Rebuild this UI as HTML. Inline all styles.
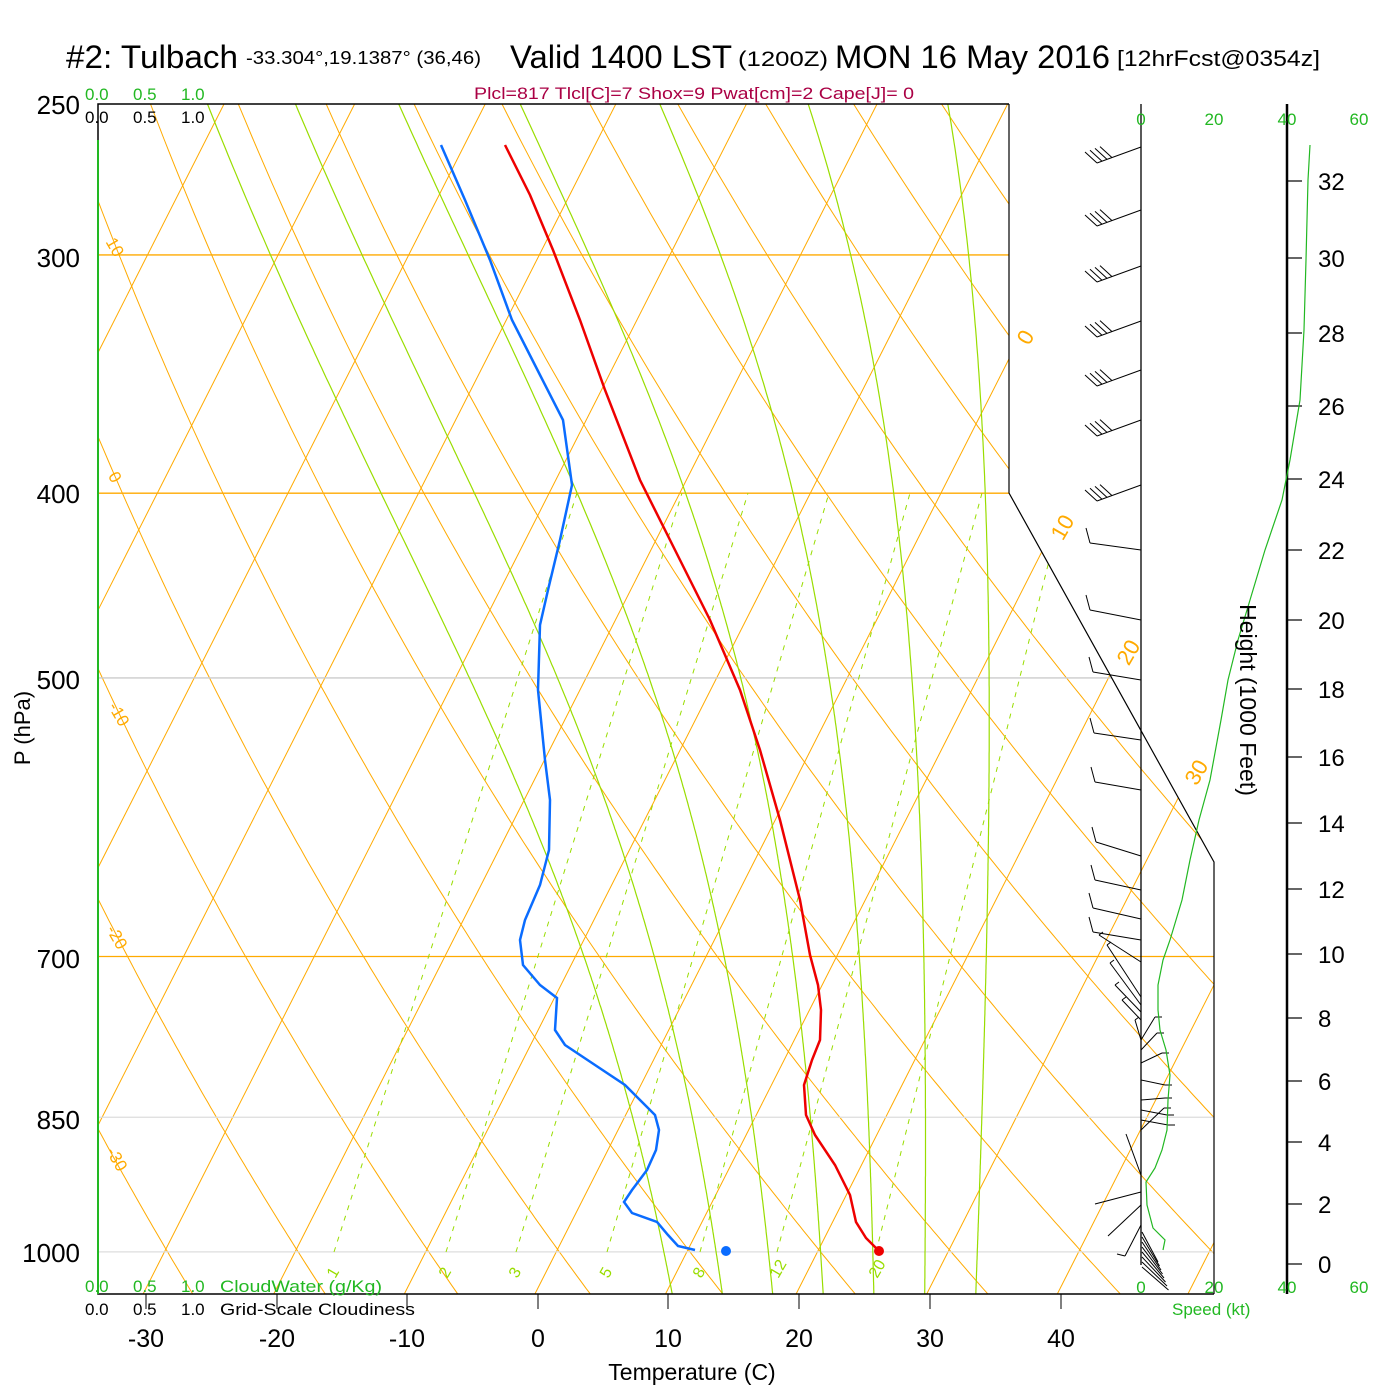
<!DOCTYPE html>
<html><head><meta charset="utf-8"><style>
body{margin:0;background:#fff;}
svg{display:block;font-family:"Liberation Sans",sans-serif;}
</style></head><body>
<svg id="s" width="1400" height="1400" xmlns="http://www.w3.org/2000/svg">
<defs><clipPath id="c"><polygon points="98,104 1009,104 1009,493 1214,862 1214,1294 98,1294"/></clipPath></defs>
<g id="grid" clip-path="url(#c)"></g>
<g id="fg"></g>
<!-- titles -->
<text x="66" y="68" font-size="32" textLength="172" lengthAdjust="spacingAndGlyphs">#2: Tulbach</text>
<text x="246" y="64" font-size="18" textLength="235" lengthAdjust="spacingAndGlyphs">-33.304°,19.1387° (36,46)</text>
<text x="510" y="68" font-size="32" textLength="222" lengthAdjust="spacingAndGlyphs">Valid 1400 LST</text>
<text x="738" y="66" font-size="21" textLength="90" lengthAdjust="spacingAndGlyphs">(1200Z)</text>
<text x="835" y="68" font-size="32" textLength="275" lengthAdjust="spacingAndGlyphs">MON 16 May 2016</text>
<text x="1117" y="66" font-size="22" textLength="203" lengthAdjust="spacingAndGlyphs">[12hrFcst@0354z]</text>
<text x="474" y="99" font-size="17" fill="#aa0044" textLength="440" lengthAdjust="spacingAndGlyphs">Plcl=817 Tlcl[C]=7 Shox=9 Pwat[cm]=2 Cape[J]= 0</text>
<g font-size="17" fill="#22b822"><text x="85" y="100">0.0</text><text x="133" y="100">0.5</text><text x="181" y="100">1.0</text></g>
<g font-size="17" fill="#000"><text x="85" y="123">0.0</text><text x="133" y="123">0.5</text><text x="181" y="123">1.0</text></g>
<g font-size="17" fill="#22b822"><text x="85" y="1292">0.0</text><text x="133" y="1292">0.5</text><text x="181" y="1292">1.0</text><text x="220" y="1292" textLength="162" lengthAdjust="spacingAndGlyphs">CloudWater (g/Kg)</text></g>
<g font-size="17" fill="#000"><text x="85" y="1315">0.0</text><text x="133" y="1315">0.5</text><text x="181" y="1315">1.0</text><text x="220" y="1315" textLength="195" lengthAdjust="spacingAndGlyphs">Grid-Scale Cloudiness</text></g>
<g font-size="26" text-anchor="end"><text x="80" y="114">250</text><text x="80" y="267">300</text><text x="80" y="503">400</text><text x="80" y="689">500</text><text x="80" y="968">700</text><text x="80" y="1129">850</text><text x="80" y="1262">1000</text></g>
<text transform="translate(30,728) rotate(-90)" font-size="22" text-anchor="middle">P (hPa)</text>
<g font-size="25" text-anchor="middle"><text x="146" y="1347">-30</text><text x="277" y="1347">-20</text><text x="407" y="1347">-10</text><text x="538" y="1347">0</text><text x="668" y="1347">10</text><text x="799" y="1347">20</text><text x="930" y="1347">30</text><text x="1061" y="1347">40</text></g>
<text x="692" y="1380" font-size="23" text-anchor="middle">Temperature (C)</text>
<g font-size="17" fill="#22b822" text-anchor="middle"><text x="1141" y="125">0</text><text x="1214" y="125">20</text><text x="1287" y="125">40</text><text x="1359" y="125">60</text>
<text x="1141" y="1293">0</text><text x="1214" y="1293">20</text><text x="1287" y="1293">40</text><text x="1359" y="1293">60</text></g>
<text x="1172" y="1315" font-size="17" fill="#22b822">Speed (kt)</text>
<text transform="translate(1240,700) rotate(90)" font-size="23" text-anchor="middle">Height (1000 Feet)</text>
<g font-size="24"><text x="1318" y="1273">0</text><text x="1318" y="1213">2</text><text x="1318" y="1151">4</text><text x="1318" y="1090">6</text><text x="1318" y="1027">8</text><text x="1318" y="963">10</text><text x="1318" y="898">12</text><text x="1318" y="832">14</text><text x="1318" y="766">16</text><text x="1318" y="698">18</text><text x="1318" y="629">20</text><text x="1318" y="559">22</text><text x="1318" y="488">24</text><text x="1318" y="415">26</text><text x="1318" y="342">28</text><text x="1318" y="267">30</text><text x="1318" y="190">32</text></g>
<script>
(function(){
var NS="http://www.w3.org/2000/svg";
var g=document.getElementById('grid'),f=document.getElementById('fg');
function el(par,tag,a,txt){var e=document.createElementNS(NS,tag);for(var k in a)e.setAttribute(k,a[k]);if(txt!==undefined)e.textContent=txt;par.appendChild(e);return e;}
function Y(p){return 104+828*Math.log(p/250);}
function X(T,p){return 538+13.06*T+0.507*(1294-Y(p));}
var OR="#ffaa00",GR="#99dd00";
// isotherms
for(var T=-120;T<=60;T+=10){el(g,'line',{x1:X(T,1060),y1:1294,x2:X(T,1060)+0.507*1190,y2:104,stroke:OR,'stroke-width':1});}
// dry adiabats
for(var th=-60;th<=200;th+=10){var d='';for(var p=1060;p>=245;p-=5){var t=(th+273.15)*Math.pow(p/1000,0.2857)-273.15;d+=(d?'L':'M')+X(t,p).toFixed(1)+','+Y(p).toFixed(1);}el(g,'path',{d:d,fill:'none',stroke:OR,'stroke-width':1});}
// horizontal lines
[[300,OR],[400,OR],[500,'#cccccc'],[700,OR],[850,'#dddddd'],[1000,'#dddddd']].forEach(function(a){el(g,'line',{x1:98,x2:1214,y1:Y(a[0]),y2:Y(a[0]),stroke:a[1],'stroke-width':1.3});});
// moist adiabats
function es(tc){return 6.112*Math.exp(17.67*tc/(tc+243.5));}
function dTdp(T,p){var tc=T-273.15,e=es(tc),rs=0.622*e/(p-e);return (287*T+2.5e6*rs)/(p*(1005+2.5e6*2.5e6*rs*0.622/(287*T*T)));}
for(var w=8;w<=32;w+=4){var pts=[];var T=w+273.15,p=1000;var down=[];var Td=T;for(var pp=1000;pp<1060;pp+=2){Td+=dTdp(Td,pp)*2;down.push([Td,pp+2]);}
down.reverse().forEach(function(a){pts.push(a)});pts.push([T,1000]);
for(p=1000;p>245;p-=2){T-=dTdp(T,p)*2;pts.push([T,p-2]);}
var d='';pts.forEach(function(a){d+=(d?'L':'M')+X(a[0]-273.15,a[1]).toFixed(1)+','+Y(a[1]).toFixed(1);});
el(g,'path',{d:d,fill:'none',stroke:GR,'stroke-width':1.2});}
// mixing ratio
var mr=[[334,577,'1'],[446,682,'2'],[516,748,'3'],[607,829,'5'],[700,910,'8'],[777,982,'12'],[876,1066,'20']];
mr.forEach(function(m){el(g,'line',{x1:m[0],y1:1252,x2:m[1],y2:493,stroke:GR,'stroke-width':1,'stroke-dasharray':'5,6'});
el(f,'text',{x:m[0]-4,y:1282,'font-size':16,fill:GR,transform:'rotate(-60 '+(m[0]-4)+' 1276)'},m[2]);});
// isotherm labels right & dry adiabat labels left
[[1025,345,'0'],[1062,535,'10'],[1128,660,'20'],[1196,780,'30']].forEach(function(a){el(f,'text',{x:a[0],y:a[1],'font-size':22,fill:OR,'text-anchor':'middle',transform:'rotate(-60 '+a[0]+' '+(a[1]-8)+')'},a[2]);});
[[110,250,'10'],[110,480,'0'],[114,717,'-10'],[112,940,'-20'],[112,1162,'-30']].forEach(function(a){el(f,'text',{x:a[0],y:a[1],'font-size':17,fill:OR,'text-anchor':'middle',transform:'rotate(60 '+a[0]+' '+a[1]+')'},a[2]);});
// frame
el(f,'polyline',{points:'1009,104 98,104 98,1294 1214,1294',fill:'none',stroke:'#000','stroke-width':1.5});
el(f,'polyline',{points:'1009,104 1009,493 1214,862 1214,1294',fill:'none',stroke:'#000','stroke-width':1.2});
el(f,'line',{x1:98,y1:140,x2:98,y2:1294,stroke:'#22b822','stroke-width':2});
[146,277,407,538,668,799,930,1061].forEach(function(x){el(f,'line',{x1:x,y1:1294,x2:x,y2:1309,stroke:'#000','stroke-width':1});});
// wind panel
el(f,'line',{x1:1141,y1:104,x2:1141,y2:1265,stroke:'#000','stroke-width':1.3});
el(f,'line',{x1:1287,y1:104,x2:1287,y2:1294,stroke:'#000','stroke-width':2.5});
[1264,1204,1142,1081,1018,954,889,823,757,689,620,550,479,406,333,258,181].forEach(function(y){el(f,'line',{x1:1287,y1:y,x2:1302,y2:y,stroke:'#000','stroke-width':1.2});});
// upper barbs
[147,210,266,321,370,420,485].forEach(function(y){var x0=1141,x1=1097,y1=y+16;el(f,'line',{x1:x0,y1:y,x2:x1,y2:y1,stroke:'#000','stroke-width':1});
for(var i=0;i<4;i++){var bx=x1+i*5,by=y1-i*1.8;el(f,'line',{x1:bx,y1:by,x2:bx-12,y2:by-11,stroke:'#000','stroke-width':1});}});
[[550,1090,543],[620,1090,610],[680,1093,672],[740,1094,733],[790,1095,782],[856,1096,842],[890,1095,880],[919,1093,908],[940,1093,932]].forEach(function(a){el(f,'line',{x1:1141,y1:a[0],x2:a[1],y2:a[2],stroke:'#000','stroke-width':1});el(f,'line',{x1:a[1],y1:a[2],x2:a[1]-4,y2:a[2]-15,stroke:'#000','stroke-width':1});});
[[962,1099,935],[997,1107,945],[1005,1110,963],[1012,1115,985],[1020,1122,1000],[1040,1135,1020]].forEach(function(a){el(f,'line',{x1:1141,y1:a[0],x2:a[1],y2:a[2],stroke:'#000','stroke-width':1});el(f,'line',{x1:a[1],y1:a[2],x2:a[1]+4,y2:a[2]-3,stroke:'#000','stroke-width':1});});
[[1040,1155,1017],[1050,1157,1033],[1063,1162,1053],[1080,1165,1085],[1100,1165,1098],[1110,1167,1115],[1120,1168,1125],[1130,1164,1108]].forEach(function(a){el(f,'line',{x1:1141,y1:a[0],x2:a[1],y2:a[2],stroke:'#000','stroke-width':1});el(f,'line',{x1:a[1],y1:a[2],x2:a[1]+7,y2:a[2],stroke:'#000','stroke-width':1});});
[[1175,1126,1134],[1192,1095,1204],[1205,1108,1236],[1225,1125,1256]].forEach(function(a){el(f,'line',{x1:1141,y1:a[0],x2:a[1],y2:a[2],stroke:'#000','stroke-width':1});});
el(f,'line',{x1:1117,y1:1254,x2:1125,y2:1256,stroke:'#000','stroke-width':1});
for(var i=0;i<8;i++){el(f,'line',{x1:1142,y1:1232+i*5,x2:1158+i*1.5,y2:1262+i*4,stroke:'#000','stroke-width':1});}
// speed curve
el(f,'polyline',{points:'1310,145 1308,180 1306,260 1304,330 1300,400 1290,460 1282,500 1265,550 1250,600 1238,640 1228,680 1221,720 1210,780 1199,820 1190,860 1182,900 1170,940 1163,960 1158,985 1158,1010 1160,1030 1166,1050 1170,1075 1168,1100 1167,1130 1162,1150 1155,1168 1146,1182 1147,1205 1153,1228 1165,1240 1163,1250',fill:'none',stroke:'#22b822','stroke-width':1.2});
// soundings
el(f,'polyline',{points:'505,145 530,195 553,250 580,320 605,390 640,480 675,550 710,620 740,690 760,750 780,820 800,900 810,955 818,985 821,1010 820,1040 812,1060 804,1085 806,1115 815,1135 835,1165 850,1195 856,1222 866,1238 879,1251',fill:'none',stroke:'#ee0000','stroke-width':2.5});
el(f,'polyline',{points:'441,145 465,200 490,260 512,320 540,375 563,420 572,485 560,540 548,590 540,625 538,690 545,760 550,800 549,850 540,885 525,920 520,940 523,965 540,985 557,998 555,1030 565,1045 595,1065 625,1085 640,1100 655,1115 659,1130 656,1150 647,1170 632,1190 624,1202 632,1213 657,1222 668,1235 678,1246 695,1250',fill:'none',stroke:'#0a6cff','stroke-width':2.5});
el(f,'circle',{cx:879,cy:1251,r:5,fill:'#ee0000'});
el(f,'circle',{cx:726,cy:1251,r:5,fill:'#0a6cff'});
})();
</script>
</svg>
</body></html>
